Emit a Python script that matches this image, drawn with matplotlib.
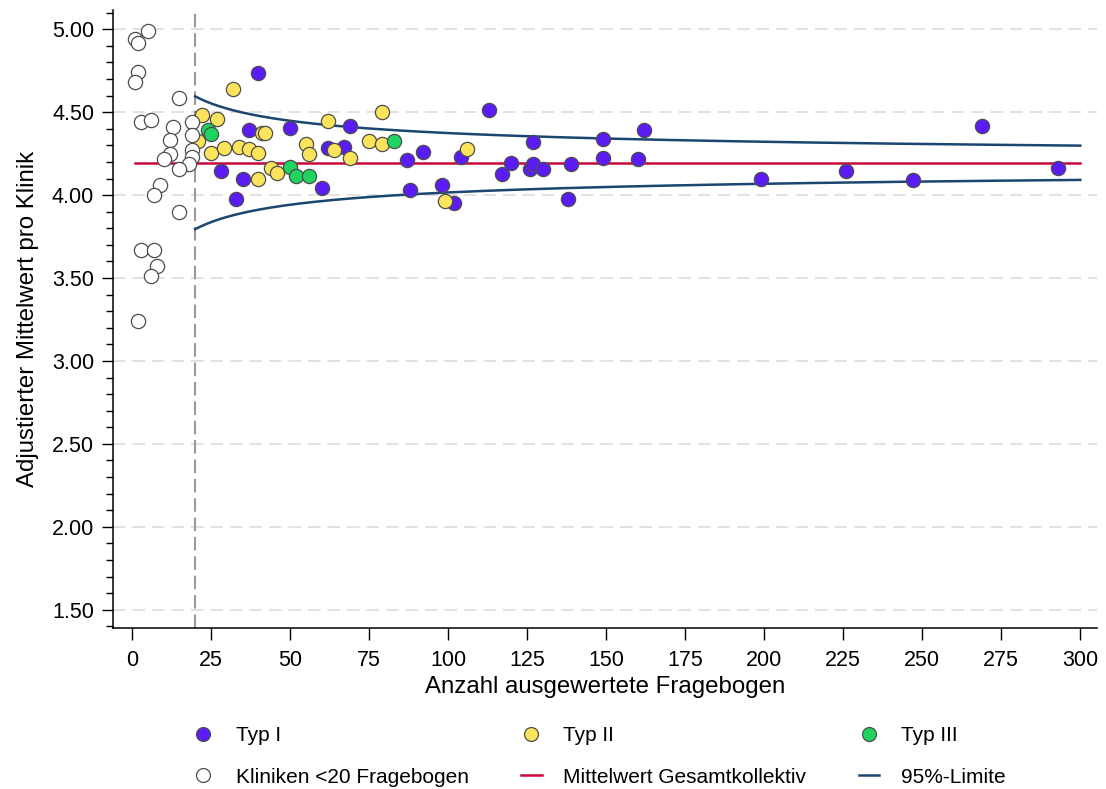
"""Funnel-Plot: adjustierte Klinik-Mittelwerte gegen Anzahl ausgewerteter Fragebogen."""

import matplotlib

matplotlib.use("Agg")
import matplotlib.pyplot as plt
import numpy as np
from matplotlib.lines import Line2D
from matplotlib.ticker import FormatStrFormatter, MultipleLocator

plt.rcParams["font.family"] = ["Liberation Sans", "DejaVu Sans"]

FIGURE_DPI = 100
TYPE_I_COLOR = "#5A1CF2"
TYPE_II_COLOR = "#FCE35C"
TYPE_III_COLOR = "#1ED45F"
SMALL_COLOR = "#FFFFFF"
MEAN_COLOR = "#C8083A"
LIMIT_COLOR = "#1A4670"
EDGE_COLOR = "#4D4D4D"
TICK_FONT_SIZE = 15.5
TITLE_FONT_SIZE = 17.3
LEGEND_FONT_SIZE = 15

# Kliniken mit weniger als 20 Fragebogen
small_n = [5, 1, 2, 2, 1, 15, 3, 6, 13, 19, 19, 12, 12, 10, 19, 19, 18, 15, 9, 7, 15, 3, 7, 8, 6, 2]
small_mean = [4.99, 4.94, 4.92, 4.74, 4.68, 4.585, 4.44, 4.45, 4.41, 4.44, 4.36, 4.33, 4.25,
              4.215, 4.27, 4.23, 4.19, 4.155, 4.06, 4.00, 3.90, 3.67, 3.67, 3.57, 3.51, 3.24]

# Typ I
type1_n = [40, 37, 50, 28, 35, 33, 60, 62, 67, 69, 113, 87, 92, 104, 88, 98, 102, 117, 127,
           149, 162, 120, 126, 127, 130, 139, 149, 160, 138, 199, 226, 247, 269, 293]
type1_mean = [4.734, 4.392, 4.403, 4.145, 4.095, 3.974, 4.04, 4.286, 4.292, 4.416, 4.513,
              4.21, 4.26, 4.232, 4.028, 4.059, 3.954, 4.129, 4.322, 4.336, 4.392, 4.196,
              4.159, 4.185, 4.159, 4.185, 4.226, 4.215, 3.978, 4.095, 4.145, 4.089, 4.416, 4.165]

# Typ II
type2_n = [32, 22, 27, 21, 41, 42, 25, 29, 34, 37, 40, 40, 44, 46, 62, 55, 56, 64, 69, 79,
           75, 79, 106, 99]
type2_mean = [4.642, 4.481, 4.457, 4.326, 4.372, 4.372, 4.252, 4.286, 4.292, 4.276, 4.256,
              4.099, 4.165, 4.131, 4.445, 4.306, 4.25, 4.27, 4.226, 4.50, 4.326, 4.31,
              4.276, 3.964]

# Typ III
type3_n = [24, 25, 50, 52, 56, 83]
type3_mean = [4.39, 4.366, 4.171, 4.115, 4.115, 4.324]

mean_total = 4.195
limit_spread = 1.79  # 1.96 * SD, Grenze = Mittelwert +/- spread / sqrt(n)
min_count = 20
max_count = 300

y_ticks = [1.5, 2.0, 2.5, 3.0, 3.5, 4.0, 4.5, 5.0]
x_ticks = list(range(0, 301, 25))


def main() -> None:
    figure = plt.figure(figsize=(11.06, 7.89), dpi=FIGURE_DPI)
    axis = figure.add_axes([0.1022, 0.2041, 0.8897, 0.7832])

    for tick in y_ticks:
        axis.axhline(tick, color="#DDDDDD", lw=1.2, dashes=(7.5, 4.2), zorder=0)
    axis.axvline(min_count, color="#9A9A9A", lw=1.5, dashes=(6.5, 2.8), zorder=1)

    line_n = np.linspace(min_count, max_count, 300)
    axis.plot([min(small_n), max_count], [mean_total, mean_total], color=MEAN_COLOR, lw=1.8, zorder=2)
    axis.plot(line_n, mean_total + limit_spread / np.sqrt(line_n), color=LIMIT_COLOR, lw=1.8, zorder=2)
    axis.plot(line_n, mean_total - limit_spread / np.sqrt(line_n), color=LIMIT_COLOR, lw=1.8, zorder=2)

    marker_style = dict(s=105, edgecolors=EDGE_COLOR, linewidths=0.9)
    axis.scatter(type1_n, type1_mean, c=TYPE_I_COLOR, zorder=3, **marker_style)
    axis.scatter(type2_n, type2_mean, c=TYPE_II_COLOR, zorder=4, **marker_style)
    axis.scatter(type3_n, type3_mean, c=TYPE_III_COLOR, zorder=5, **marker_style)
    axis.scatter(small_n, small_mean, c=SMALL_COLOR, zorder=6, **marker_style)

    axis.set_xlim(-6, 305.3)
    axis.set_ylim(1.39, 5.116)
    axis.set_xticks(x_ticks)
    axis.set_yticks(y_ticks)
    axis.yaxis.set_minor_locator(MultipleLocator(0.1))
    axis.yaxis.set_major_formatter(FormatStrFormatter("%.2f"))
    axis.tick_params(axis="both", which="major", labelsize=TICK_FONT_SIZE, width=1.0)
    axis.tick_params(axis="x", which="major", length=8.6, pad=7)
    axis.tick_params(axis="y", which="major", length=7.7, pad=6)
    axis.tick_params(axis="y", which="minor", length=4.8, width=1.0)
    for side in ("top", "right"):
        axis.spines[side].set_visible(False)
    for side in ("left", "bottom"):
        axis.spines[side].set_linewidth(1.1)

    axis.set_xlabel("Anzahl ausgewertete Fragebogen", fontsize=TITLE_FONT_SIZE, labelpad=4)
    axis.set_ylabel("Adjustierter Mittelwert pro Klinik", fontsize=TITLE_FONT_SIZE, labelpad=9)

    def point_handle(color: str, label: str) -> Line2D:
        return Line2D([], [], ls="none", marker="o", markersize=10, markerfacecolor=color,
                      markeredgecolor=EDGE_COLOR, markeredgewidth=0.9, label=label)

    handles = [
        point_handle(TYPE_I_COLOR, "Typ I"),
        point_handle(SMALL_COLOR, "Kliniken <20 Fragebogen"),
        point_handle(TYPE_II_COLOR, "Typ II"),
        Line2D([], [], color=MEAN_COLOR, lw=1.8, label="Mittelwert Gesamtkollektiv"),
        point_handle(TYPE_III_COLOR, "Typ III"),
        Line2D([], [], color=LIMIT_COLOR, lw=1.8, label="95%-Limite"),
    ]
    figure.legend(
        handles=handles,
        loc="center",
        bbox_to_anchor=(0.1745, 0.0, 0.735, 0.083),
        mode="expand",
        ncol=3,
        frameon=False,
        fontsize=LEGEND_FONT_SIZE,
        handlelength=1.0,
        handletextpad=1.05,
        labelspacing=1.1,
        borderpad=0.0,
        borderaxespad=0.0,
    )

    figure.savefig("out.png", dpi=FIGURE_DPI)
    plt.close(figure)


if __name__ == "__main__":
    main()
